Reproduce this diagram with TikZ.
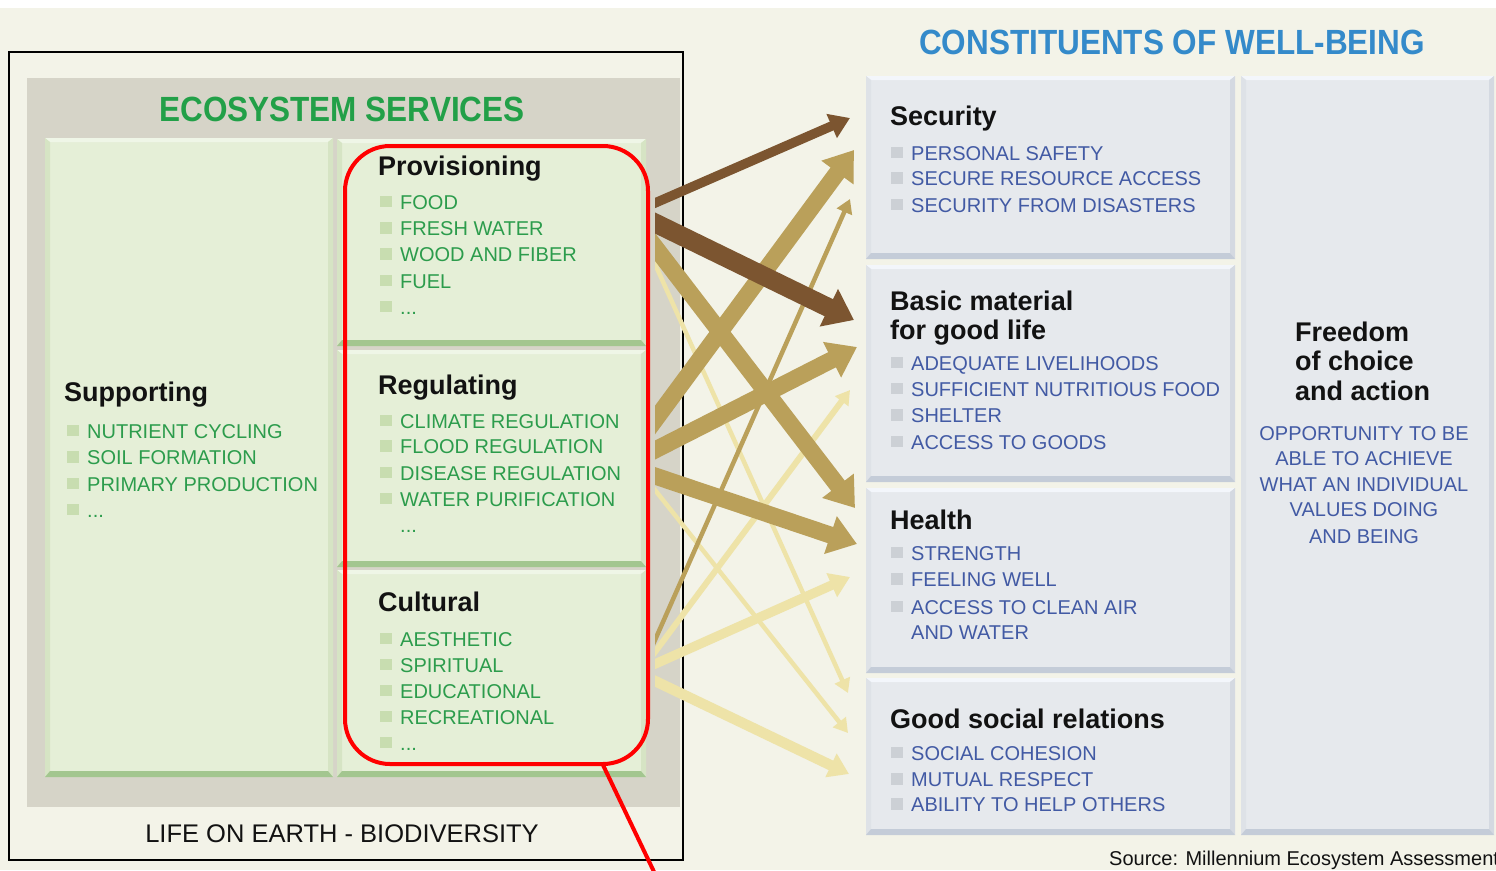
\documentclass[tikz,border=0pt]{standalone}
\usepackage{fontspec}
\setmainfont{Liberation Sans}
\newfontfamily\hdrfont{Liberation Sans}[FakeStretch=0.9]
\usetikzlibrary{arrows.meta}
\definecolor{bgc}{RGB}{243,243,232}
\definecolor{grayc}{RGB}{214,212,200}
\definecolor{gfill}{RGB}{229,239,215}
\definecolor{gtop}{RGB}{239,246,231}
\definecolor{gside}{RGB}{214,228,196}
\definecolor{gbot}{RGB}{163,198,143}
\definecolor{gbul}{RGB}{200,221,176}
\definecolor{gtxt}{RGB}{44,156,76}
\definecolor{ghdr}{RGB}{34,160,72}
\definecolor{bfill}{RGB}{230,233,237}
\definecolor{btop}{RGB}{243,246,251}
\definecolor{bleft}{RGB}{222,226,231}
\definecolor{bright}{RGB}{212,217,225}
\definecolor{bbot}{RGB}{196,204,216}
\definecolor{bbul}{RGB}{204,208,213}
\definecolor{btxt}{RGB}{66,90,164}
\definecolor{bhdr}{RGB}{52,138,202}
\definecolor{ttlc}{RGB}{18,18,18}
\definecolor{darkbr}{RGB}{124,85,48}
\definecolor{tanc}{RGB}{186,160,90}
\definecolor{lightc}{RGB}{238,227,168}
\definecolor{redc}{RGB}{255,0,0}

\newcommand{\bevbox}[9]{%
  \fill[#5] (#1,#2) rectangle (#3,#4);
  \fill[#6] (#1,#2) -- (#3,#2) -- (#3-5,#2+4) -- (#1+5,#2+4) -- cycle;
  \fill[#7] (#1,#2) -- (#1+5,#2+4) -- (#1+5,#4-6) -- (#1,#4) -- cycle;
  \fill[#8] (#3,#2) -- (#3-5,#2+4) -- (#3-5,#4-6) -- (#3,#4) -- cycle;
  \fill[#9] (#1,#4) -- (#1+5,#4-6) -- (#3-5,#4-6) -- (#3,#4) -- cycle;}
\newcommand{\gitem}[4]{%
  \fill[gbul] (#2,#3-13.3) rectangle (#2+11.5,#3-1.7);
  \node[gtext] (#1) at (#2+20,#3) {#4};}
\newcommand{\bitem}[4]{%
  \fill[bbul] (#2,#3-13.3) rectangle (#2+12,#3-1.7);
  \node[btext] (#1) at (#2+20,#3) {#4};}

\begin{document}
\begin{tikzpicture}[x=1pt,y=-1pt,
  gtext/.style={anchor=base west,inner sep=0pt,text=gtxt,font=\fontsize{20}{24}\selectfont},
  btext/.style={anchor=base west,inner sep=0pt,text=btxt,font=\fontsize{20}{24}\selectfont},
  bctext/.style={anchor=base,inner sep=0pt,text=btxt,font=\fontsize{20}{24}\selectfont},
  ttl/.style={anchor=base west,inner sep=0pt,text=ttlc,font=\bfseries\fontsize{27}{30}\selectfont},
  hdr/.style={anchor=base,inner sep=0pt,font=\hdrfont\bfseries\fontsize{35}{40}\selectfont},
  thickarr/.style={line width=17pt,-{Triangle[length=28pt,width=38pt]},shorten <=-25pt},
  brarr/.style={line width=19pt,-{Triangle[length=28pt,width=40pt]},shorten <=-25pt},
  medarr/.style={line width=9.5pt,-{Triangle[length=20pt,width=25pt]},shorten <=-25pt},
  thinarr/.style={line width=4.5pt,-{Triangle[length=14pt,width=16pt]},shorten <=-25pt},
  redline/.style={draw=redc,line width=4pt}]
\useasboundingbox (0,0) rectangle (1496,870);
\fill[white] (0,0) rectangle (1496,870);
\fill[bgc] (0,8) rectangle (1496,870);

% ---------- left: ecosystem services ----------
\fill[grayc] (27,78) rectangle (680,807);
\draw[line width=2.5pt,black] (9,52) rectangle (683,860);
\node[hdr,text=ghdr] (ecohdr) at (342,121) {ECOSYSTEM SERVICES};

\bevbox{45}{138}{333}{777}{gfill}{gtop}{gside}{gside}{gbot}
\bevbox{337}{139}{646}{346}{gfill}{gtop}{gside}{gside}{gbot}
\bevbox{337}{350}{646}{567}{gfill}{gtop}{gside}{gside}{gbot}
\bevbox{337}{570}{646}{777}{gfill}{gtop}{gside}{gside}{gbot}

\node[ttl] (supp) at (64,401) {Supporting};
\gitem{s1}{67}{438}{NUTRIENT CYCLING}
\gitem{s2}{67}{464.5}{SOIL FORMATION}
\gitem{s3}{67}{491}{PRIMARY PRODUCTION}
\gitem{s4}{67}{517}{...}

\node[ttl] (prov) at (378,175) {Provisioning};
\gitem{p1}{380}{209}{FOOD}
\gitem{p2}{380}{235.3}{FRESH WATER}
\gitem{p3}{380}{261.6}{WOOD AND FIBER}
\gitem{p4}{380}{288}{FUEL}
\gitem{p5}{380}{314}{...}

\node[ttl] (regu) at (378,394) {Regulating};
\gitem{r1}{380}{428}{CLIMATE REGULATION}
\gitem{r2}{380}{453.5}{FLOOD REGULATION}
\gitem{r3}{380}{480}{DISEASE REGULATION}
\gitem{r4}{380}{506}{WATER PURIFICATION}
\node[gtext] (r5) at (400,532) {...};

\node[ttl] (cult) at (378,611) {Cultural};
\gitem{c1}{380}{646}{AESTHETIC}
\gitem{c2}{380}{672}{SPIRITUAL}
\gitem{c3}{380}{698}{EDUCATIONAL}
\gitem{c4}{380}{724}{RECREATIONAL}
\gitem{c5}{380}{750}{...}

\node[anchor=base,inner sep=0pt,text=ttlc,font=\fontsize{25.5}{30}\selectfont] (life) at (342,842) {LIFE ON EARTH - BIODIVERSITY};

% ---------- right: constituents of well-being ----------
\node[hdr,text=bhdr] (wbhdr) at (1172,54.5) {CONSTITUENTS OF WELL-BEING};

\bevbox{866}{76}{1235}{259}{bfill}{btop}{bleft}{bright}{bbot}
\bevbox{866}{265}{1235}{482}{bfill}{btop}{bleft}{bright}{bbot}
\bevbox{866}{488}{1235}{673}{bfill}{btop}{bleft}{bright}{bbot}
\bevbox{866}{678}{1235}{835}{bfill}{btop}{bleft}{bright}{bbot}
\bevbox{1241}{76}{1494}{835}{bfill}{btop}{bleft}{bright}{bbot}

\node[ttl] (secu) at (890,125) {Security};
\bitem{se1}{891}{160}{PERSONAL SAFETY}
\bitem{se2}{891}{185.5}{SECURE RESOURCE ACCESS}
\bitem{se3}{891}{212}{SECURITY FROM DISASTERS}

\node[ttl] (basic) at (890,310) {Basic material};
\node[ttl] (basic2) at (890,339) {for good life};
\bitem{ba1}{891}{370}{ADEQUATE LIVELIHOODS}
\bitem{ba2}{891}{396}{SUFFICIENT NUTRITIOUS FOOD}
\bitem{ba3}{891}{422.5}{SHELTER}
\bitem{ba4}{891}{449}{ACCESS TO GOODS}

\node[ttl] (health) at (890,529) {Health};
\bitem{he1}{891}{560}{STRENGTH}
\bitem{he2}{891}{586.7}{FEELING WELL}
\bitem{he3}{891}{614}{ACCESS TO CLEAN AIR}
\node[btext] (he4) at (911,639.3) {AND WATER};

\node[ttl] (social) at (890,728.3) {Good social relations};
\bitem{so1}{891}{760}{SOCIAL COHESION}
\bitem{so2}{891}{786.7}{MUTUAL RESPECT}
\bitem{so3}{891}{811.7}{ABILITY TO HELP OTHERS}

\node[ttl] (fr1) at (1295,341.7) {Freedom};
\node[ttl] (fr2) at (1295,370.5) {of choice};
\node[ttl] (fr3) at (1295,400) {and action};
\node[bctext] (fb1) at (1364,440) {OPPORTUNITY TO BE};
\node[bctext] (fb2) at (1364,465.5) {ABLE TO ACHIEVE};
\node[bctext] (fb3) at (1364,491.7) {WHAT AN INDIVIDUAL};
\node[bctext] (fb4) at (1364,516.7) {VALUES DOING};
\node[bctext] (fb5) at (1364,543.3) {AND BEING};

\node[anchor=base west,inner sep=0pt,text=ttlc,font=\fontsize{20}{24}\selectfont] (source) at (1109,865) {Source: Millennium Ecosystem Assessment};

% ---------- arrows ----------
\coordinate (pA) at (655,203);
\coordinate (pB) at (655,223);
\coordinate (pC) at (655,247);
\coordinate (pD) at (655,264);
\coordinate (rA) at (655,420);
\coordinate (rB) at (655,450);
\coordinate (rC) at (655,476);
\coordinate (rD) at (655,490);
\coordinate (cA) at (655,640);
\coordinate (cB) at (655,652);
\coordinate (cC) at (655,664);
\coordinate (cD) at (655,681);
\coordinate (secA) at (850,118);
\coordinate (secB) at (854,150);
\coordinate (secC) at (850,199);
\coordinate (basA) at (854,320);
\coordinate (basB) at (857,347);
\coordinate (basC) at (850,390);
\coordinate (heaA) at (855,508);
\coordinate (heaB) at (857,544);
\coordinate (heaC) at (850,577);
\coordinate (socA) at (848,693);
\coordinate (socB) at (848,733);
\coordinate (socC) at (849,774);

\begin{scope}
\clip (655,0) rectangle (866,870);
\draw[thinarr,lightc] (pD) -- (socA);
\draw[thinarr,lightc] (rD) -- (socB);
\draw[thinarr,lightc,line width=6pt] (cB) -- (basC);
\draw[medarr,lightc] (cC) -- (heaC);
\draw[medarr,lightc,line width=10.5pt] (cD) -- (socC);
\draw[thinarr,tanc] (cA) -- (secC);
\draw[thickarr,tanc] (rA) -- (secB);
\draw[thickarr,tanc] (rB) -- (basB);
\draw[thickarr,tanc] (rC) -- (heaB);
\draw[thickarr,tanc] (pC) -- (heaA);
\draw[medarr,darkbr] (pA) -- (secA);
\draw[brarr,darkbr] (pB) -- (basA);
\end{scope}

% ---------- red highlight ----------
\draw[redline,rounded corners=45pt] (345,146) rectangle (648,764);
\coordinate (redA) at (603,765);
\coordinate (redB) at (656,876);
\draw[redline] (redA) -- (redB);
\end{tikzpicture}
\end{document}
